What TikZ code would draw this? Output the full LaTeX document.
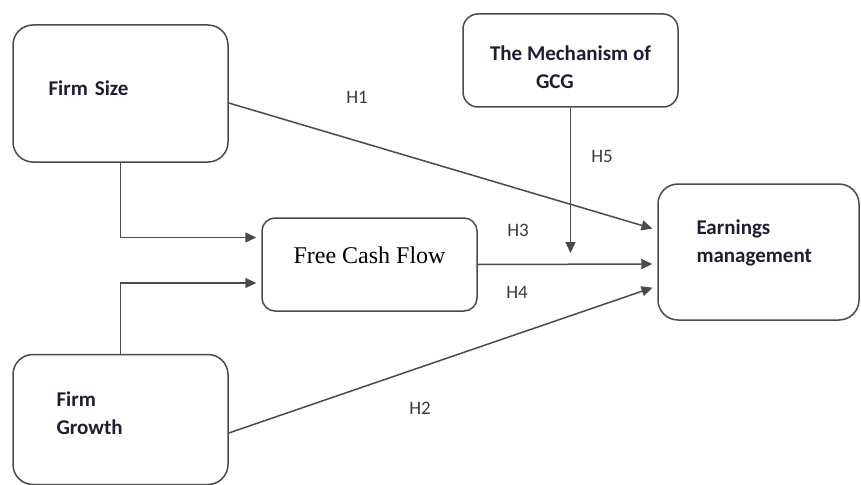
\documentclass[tikz,border=0pt]{standalone}
\usepackage{fontspec}
\setmainfont{Carlito}
\newfontfamily\cashfont{Liberation Serif}
\usetikzlibrary{positioning,arrows.meta}
\definecolor{BoxLine}{HTML}{4A4A4A}
\definecolor{LabelInk}{HTML}{1E1E30}
\definecolor{HypInk}{HTML}{3A3A3A}

\begin{document}
\begin{tikzpicture}[
      x=1pt, y=-1pt,
      node distance=191pt,
      every node/.style={align=center},
      var/.style={draw=BoxLine, line width=1.5pt, rounded corners=20pt, text=LabelInk, align=left, font=\bfseries\fontsize{21}{28}\selectfont},
      mediator/.style={draw=BoxLine, line width=1.5pt, rounded corners=13pt, minimum width=215pt, minimum height=93pt, font=\cashfont\fontsize{24}{28}\selectfont},
      hyp/.style={text=HypInk, font=\fontsize{19}{22}\selectfont},
      arrow/.style={line width=1.5pt, BoxLine, -{Triangle[length=11pt,width=10pt]}, shorten >=5pt}
    ]
      \useasboundingbox (0,0) rectangle (861,484);
      \node[var, minimum width=215pt, minimum height=137pt, text width=144pt] (fsize) at (120.5,93.5) {Firm Size\\[-17pt]\mbox{}};
      \node[var, below=of fsize, minimum width=215pt, minimum height=130pt, text width=128pt] (fgrow) {Firm\\Growth\\[-15pt]\mbox{}};
      \node[mediator] (fcf) at (369.5,264.5) {Free Cash Flow\\[-9pt]\mbox{}};
      \node[var, rounded corners=15pt, minimum width=215pt, minimum height=93pt] (gcg) at (570.5,60.5) {The Mechanism of\\\hspace*{46pt}GCG\\[-42pt]\mbox{}};
      \node[var, minimum width=201pt, minimum height=136pt, text width=124pt] (earn) at (758.5,252) {Earnings\\management\\[-6pt]\mbox{}};
      \coordinate (gcgend) at (570.5,253);
      % paths into the mediator
      \draw[arrow] (fsize.south) |- ([yshift=27pt]fcf.west);
      \draw[arrow] (fgrow.north) |- ([yshift=-18.5pt]fcf.west);
      % paths into earnings management
      \draw[arrow] ([yshift=-9.5pt]fsize.east) -- ([yshift=22pt]earn.west);
      \draw[arrow] (fcf.east) -- ([yshift=-12pt]earn.west);
      \draw[arrow] ([yshift=-13.5pt]fgrow.east) -- ([yshift=-34pt]earn.west);
      \draw[arrow, shorten >=0pt] (gcg.south) -- (gcgend);
      % hypotheses
      \node[hyp] (h1) at (357,97) {H1};
      \node[hyp] (h2) at (420,408) {H2};
      \node[hyp] (h3) at (518,230) {H3};
      \node[hyp] (h4) at (517,292) {H4};
      \node[hyp] (h5) at (602,156) {H5};
    \end{tikzpicture}
\end{document}
